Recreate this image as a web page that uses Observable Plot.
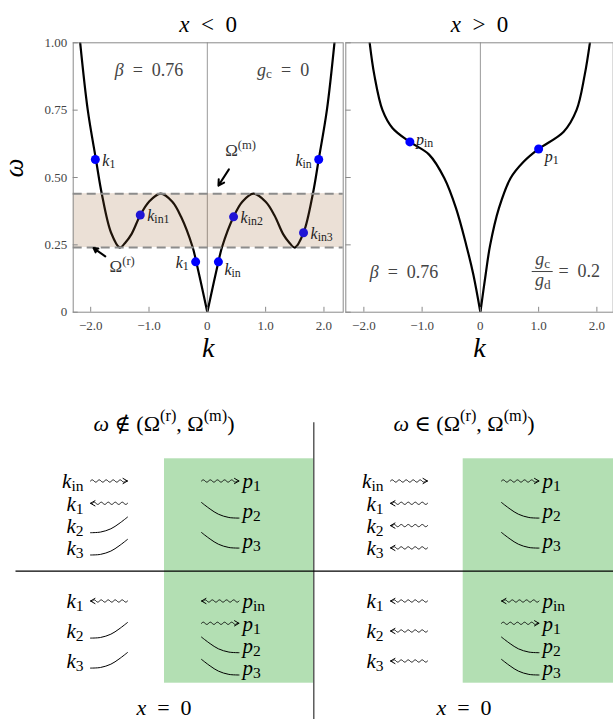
<!DOCTYPE html>
<html><head><meta charset="utf-8">
<script src="https://cdn.jsdelivr.net/npm/d3@7"></script>
<script src="https://cdn.jsdelivr.net/npm/@observablehq/plot@0.6"></script>
<style>
html,body{margin:0;padding:0;background:#fff;}
#fig{position:relative;width:613px;height:719px;overflow:hidden;}
#fig svg{position:absolute;overflow:visible;}
</style></head><body><div id="fig"></div>
<script>
// ================= DATA =================
const bandOmega = [0.24, 0.44];          // Ω^(r), Ω^(m)
const zeroLine = [0];

// x < 0 : dispersion curve
const leftNegK = [-2.18,-2.05,-1.91,-1.81,-1.65,-1.5,-1.4,-1.3,-1.15,-1.0,-0.8,-0.6,-0.45,-0.25,-0.19,-0.1,0];
const leftNegW = [1.0,0.75,0.567,0.44,0.295,0.24,0.26,0.29,0.36,0.41,0.44,0.41,0.354,0.24,0.187,0.1,0];
const leftPosK = [0,0.1,0.19,0.25,0.45,0.6,0.79,1.0,1.15,1.3,1.4,1.5,1.65,1.81,1.91,2.05,2.18];
const leftPosW = [0,0.1,0.187,0.24,0.354,0.41,0.44,0.41,0.36,0.29,0.26,0.24,0.295,0.44,0.567,0.75,1.0];

// x > 0 : dispersion curve
const rightNegK = [-1.90,-1.82,-1.68,-1.51,-1.21,-0.88,-0.62,-0.42,-0.24,-0.12,0];
const rightNegW = [1.0,0.88,0.75,0.684,0.632,0.585,0.498,0.387,0.247,0.139,0];
const rightPosK = [0,0.09,0.166,0.32,0.52,0.75,1.0,1.43,1.65,1.79,1.88];
const rightPosW = [0,0.139,0.247,0.387,0.498,0.56,0.606,0.67,0.75,0.88,1.0];

// marked modes
const leftDotK = [-1.92,-1.15,-0.2,0.19,0.45,1.65,1.91];
const leftDotW = [0.567,0.361,0.187,0.187,0.354,0.295,0.567];
const leftDotLabel = ["k_1","k_{in1}","k_1","k_{in}","k_{in2}","k_{in3}","k_{in}"];
const leftDotSide = ["r","r","l","rb","r","r","l"];
const rightDotK = [-1.21, 1.0];
const rightDotW = [0.632, 0.606];
const rightDotLabel = ["p_{in}","p_1"];
const rightDotSide = ["ra","rb"];

// annotations
const panelTitles = ["x\u2002<\u20020", "x\u2002>\u20020"];
const leftNoteText = ["β\u2002=\u20020.76", "g_c\u2002=\u20020"];
const leftNoteK = [-1.0, 1.3];
const leftNoteW = [0.90, 0.90];
const rightNoteText = ["β\u2002=\u20020.76"];
const rightNoteK = [-1.31];
const rightNoteW = [0.15];
const fracNum = "g_c", fracDen = "g_d", fracRest = "=\u20020.2";
const fracK = 1.07, fracNumW = 0.196, fracBarW = 0.151, fracDenW = 0.118, fracRestK = 1.34;
const omegaLabel = ["Ω^{(m)}", "Ω^{(r)}"];
const omegaLabelK = [0.57, -1.46];
const omegaLabelW = [0.60, 0.17];
const omegaArrowFrom = [[0.37, 0.53], [-1.75, 0.207]];
const omegaArrowTo = [[0.19, 0.47], [-1.95, 0.238]];

// axes
const xTickValues = [-2, -1, 0, 1, 2];
const xTickLabels = ["\u22122.0", "\u22121.0", "0", "1.0", "2.0"];
const yTickValues = [0, 0.25, 0.5, 0.75, 1];
const yTickLabels = ["0", "0.25", "0.50", "0.75", "1.00"];

// bottom diagram: column 0 -> ω ∉ (Ω^(r),Ω^(m)), column 1 -> ω ∈ (Ω^(r),Ω^(m))
// mode types: R = right-moving, L = left-moving, E = growing (evanescent), D = decaying
const diagramTitles = ["ω \u2209 (Ω^{(r)}, Ω^{(m)})", "ω \u2208 (Ω^{(r)}, Ω^{(m)})"];
const boundaryLabel = "x\u2002=\u20020";
const kLabelsTop = ["k_{in}", "k_1", "k_2", "k_3"];
const kTypeTopOut = ["R", "L", "E", "E"];
const kTypeTopIn  = ["R", "L", "L", "L"];
const pLabelsTop = ["p_1", "p_2", "p_3"];
const pTypeTop = ["R", "D", "D"];
const kLabelsBottom = ["k_1", "k_2", "k_3"];
const kTypeBottomOut = ["L", "E", "E"];
const kTypeBottomIn  = ["L", "L", "L"];
const pLabelsBottom = ["p_{in}", "p_1", "p_2", "p_3"];
const pTypeBottom = ["L", "R", "D", "D"];

// ================= HELPERS =================
const FONT = "'Liberation Serif', 'DejaVu Serif', serif";
const STYLE = "font-family:" + FONT + ";background:transparent;overflow:visible;";
const zip = (ks, ws, extra) => ks.map((k, i) => ({k, w: ws[i], ...(extra ? extra(i) : {})}));

function parseMath(s) {
  const out = [];
  const push = (ch, level, italic) => {
    const last = out[out.length - 1];
    if (last && last.level === level && last.italic === italic) last.text += ch;
    else out.push({text: ch, level, italic});
  };
  for (let i = 0; i < s.length; i++) {
    const c = s[i];
    if (c === "_" || c === "^") {
      const level = c === "_" ? -1 : 1;
      let content;
      if (s[i + 1] === "{") { const j = s.indexOf("}", i + 2); content = s.slice(i + 2, j); i = j; }
      else { content = s[i + 1]; i++; }
      for (const ch of content) push(ch, level, false);
    } else push(c, 0, /[A-Za-zα-ω]/.test(c));
  }
  return out;
}
function mathify(root) {
  root.querySelectorAll("text").forEach(t => {
    t.style.setProperty("font-family", FONT, "important");
    if (t.querySelector("tspan")) return;
    const s = t.textContent;
    if (!s) return;
    const segs = parseMath(s);
    if (segs.every(g => g.level === 0 && !g.italic)) return;
    const fs = parseFloat(getComputedStyle(t).fontSize) || 12;
    t.textContent = "";
    let cur = 0;
    for (const g of segs) {
      const ts = document.createElementNS("http://www.w3.org/2000/svg", "tspan");
      const shift = g.level === -1 ? 0.15 * fs : g.level === 1 ? -0.42 * fs : 0;
      if (shift !== cur) { ts.setAttribute("dy", (shift - cur).toFixed(2)); cur = shift; }
      if (g.level) ts.setAttribute("font-size", (0.74 * fs).toFixed(2));
      ts.setAttribute("font-style", g.italic ? "italic" : "normal");
      ts.style.setProperty("font-family", FONT, "important");
      ts.textContent = g.text;
      t.appendChild(ts);
    }
  });
}

const sideOpts = {
  r:  {textAnchor: "start", dx: 7, dy: 1},
  l:  {textAnchor: "end", dx: -7, dy: 1},
  rb: {textAnchor: "start", dx: 6, dy: 8},
  ra: {textAnchor: "start", dx: 6, dy: -2}
};
function dotLabels(dots) {
  return Object.keys(sideOpts).map(side =>
    Plot.text(dots.filter(d => d.side === side), {x: "k", y: "w", text: "label", fontSize: 16, fill: "#222", ...sideOpts[side]}));
}

function frameMarks(showYLabels) {
  return [
    Plot.frame({stroke: "#8a8a8a"}),
    Plot.tickX(xTickValues, {x: d => d, insetTop: 264.5, stroke: "#8a8a8a"}),
    Plot.tickY(yTickValues, {y: d => d, insetRight: showYLabels ? 265 : 262, stroke: "#8a8a8a"}),
    Plot.axisX(xTickValues, {tickSize: 0, tickPadding: 9, fontSize: 13, fill: "#444", label: null,
      tickFormat: d => xTickLabels[xTickValues.indexOf(d)]}),
    ...(showYLabels ? [Plot.axisY(yTickValues, {tickSize: 0, tickPadding: 6, fontSize: 13, fill: "#444", label: null,
      tickFormat: d => yTickLabels[yTickValues.indexOf(d)]})] : [])
  ];
}

// ================= TOP-LEFT PANEL (x<0) =================
const fig = document.getElementById("fig");
const leftCurve = [...zip(leftNegK, leftNegW, () => ({b: "n"})), ...zip(leftPosK, leftPosW, () => ({b: "p"}))];
const leftDots = zip(leftDotK, leftDotW, i => ({label: leftDotLabel[i], side: leftDotSide[i]}));
const leftNotes = zip(leftNoteK, leftNoteW, i => ({t: leftNoteText[i]}));
const omegaNotes = zip(omegaLabelK, omegaLabelW, i => ({t: omegaLabel[i],
  x1: omegaArrowFrom[i][0], y1: omegaArrowFrom[i][1], x2: omegaArrowTo[i][0], y2: omegaArrowTo[i][1]}));

const left = Plot.plot({
  width: 345, height: 380,
  marginLeft: 72.7, marginRight: 2.3, marginTop: 42.3, marginBottom: 68.3,
  x: {domain: [-2.3, 2.33]},
  y: {domain: [0, 1]},
  style: STYLE,
  marks: [
    Plot.ruleX(zeroLine, {stroke: "#9a9a9a", strokeWidth: 1}),
    Plot.line(leftCurve, {x: "k", y: "w", z: "b", curve: "catmull-rom", stroke: "#000", strokeWidth: 2.2, clip: true}),
    Plot.dot(leftDots, {x: "k", y: "w", r: 4.5, fill: "#0000ff"}),
    Plot.rect([bandOmega], {y1: d => d[0], y2: d => d[1], fill: "#996633", fillOpacity: 0.2}),
    Plot.ruleY(bandOmega, {stroke: "#8c8c8c", strokeWidth: 2, strokeDasharray: "9,5"}),
    ...frameMarks(true),
    ...dotLabels(leftDots),
    Plot.text(leftNotes, {x: "k", y: "w", text: "t", fontSize: 18, fill: "#444"}),
    Plot.arrow(omegaNotes, {x1: "x1", y1: "y1", x2: "x2", y2: "y2", stroke: "#000", strokeWidth: 2, headLength: 7}),
    Plot.text(omegaNotes, {x: "k", y: "w", text: "t", fontSize: 17, fill: "#333"}),
    Plot.text([panelTitles[0]], {frameAnchor: "top", dy: -27, fontSize: 23}),
    Plot.text(["ω"], {frameAnchor: "left", dx: -59, rotate: -90, fontSize: 27}),
    Plot.text(["k"], {frameAnchor: "bottom", dy: 45, fontSize: 28})
  ]
});
left.style.left = "0px"; left.style.top = "0px";
fig.appendChild(left);

// ================= TOP-RIGHT PANEL (x>0) =================
const rightCurve = [...zip(rightNegK, rightNegW, () => ({b: "n"})), ...zip(rightPosK, rightPosW, () => ({b: "p"}))];
const rightDots = zip(rightDotK, rightDotW, i => ({label: rightDotLabel[i], side: rightDotSide[i]}));
const rightNotes = zip(rightNoteK, rightNoteW, i => ({t: rightNoteText[i]}));
const frac = [{k: fracK, num: fracNumW, bar: fracBarW, den: fracDenW}];

const right = Plot.plot({
  width: 269, height: 380,
  marginLeft: 1.3, marginRight: 0.3, marginTop: 42.3, marginBottom: 68.3,
  x: {domain: [-2.31, 2.28]},
  y: {domain: [0, 1], axis: null},
  style: STYLE,
  marks: [
    Plot.ruleX(zeroLine, {stroke: "#9a9a9a", strokeWidth: 1}),
    Plot.line(rightCurve, {x: "k", y: "w", z: "b", curve: "catmull-rom", stroke: "#000", strokeWidth: 2.2, clip: true}),
    Plot.dot(rightDots, {x: "k", y: "w", r: 4.5, fill: "#0000ff"}),
    ...frameMarks(false),
    ...dotLabels(rightDots),
    Plot.text(rightNotes, {x: "k", y: "w", text: "t", fontSize: 18, fill: "#444"}),
    Plot.text(frac, {x: "k", y: "num", text: () => fracNum, fontSize: 18, fill: "#444"}),
    Plot.text(frac, {x: "k", y: "den", text: () => fracDen, fontSize: 18, fill: "#444"}),
    Plot.ruleY(frac, {y: "bar", x1: "k", x2: "k", insetLeft: -10.5, insetRight: -10.5, stroke: "#444", strokeWidth: 1}),
    Plot.text(frac, {x: () => fracRestK, y: "bar", text: () => fracRest, textAnchor: "start", fontSize: 18, fill: "#444"}),
    Plot.text([panelTitles[1]], {frameAnchor: "top", dy: -27, fontSize: 23}),
    Plot.text(["k"], {frameAnchor: "bottom", dy: 45, fontSize: 28})
  ]
});
right.style.left = "344px"; right.style.top = "0px";
fig.appendChild(right);

// ================= BOTTOM DIAGRAM =================
const LAY = {
  colShift: [0, 300],
  kLabelX: 83, kArrow: [90, 127],
  pArrow: [201, 238.5], pLabelX: 242,
  rowStart: [481, 601],
  titleY: 423, boundaryY: 707, centerX: 163.5,
  green: [[164, 313.3], [462.7, 613]], greenY: [458.3, 682.7],
  vDivider: [313.3, 421.7, 719], hDivider: [15, 613, 570.7]
};
// glyph templates (normalised shapes)
const growT = [0, 0.27, 0.55, 0.77, 1];
const growV = [0, 0.04, 0.25, 0.58, 1];
const headDX = [-4.5, 0, -4.5];
const headDY = [-2.6, 0, 2.6];

const kCols = [[kTypeTopOut, kTypeBottomOut], [kTypeTopIn, kTypeBottomIn]];
const kLabs = [kLabelsTop, kLabelsBottom];
const pLabs = [pLabelsTop, pLabelsBottom];
const pTypes = [pTypeTop, pTypeBottom];

const items = [];
for (let c = 0; c < 2; c++) for (let r = 0; r < 2; r++) {
  const groups = [
    {side: "k", labels: kLabs[r], types: kCols[c][r]},
    {side: "p", labels: pLabs[r], types: pTypes[r]}
  ];
  for (const g of groups) {
    const n = g.labels.length, step = n === 4 ? 22.3 : 30;
    g.labels.forEach((lab, i) => items.push({
      side: g.side, label: lab, type: g.types[i],
      y: LAY.rowStart[r] + i * step,
      x0: (g.side === "k" ? LAY.kArrow[0] : LAY.pArrow[0]) + LAY.colShift[c],
      x1: (g.side === "k" ? LAY.kArrow[1] : LAY.pArrow[1]) + LAY.colShift[c],
      lx: (g.side === "k" ? LAY.kLabelX : LAY.pLabelX) + LAY.colShift[c]
    }));
  }
}
const waves = [], heads = [], slopes = [];
items.forEach((it, id) => {
  if (it.type === "R" || it.type === "L") {
    const yc = it.y - 0.5;
    const right = it.type === "R";
    const s0 = right ? it.x0 : it.x0 + 2;
    const s1 = right ? it.x1 - 2 : it.x1;
    const per = Math.max(1, Math.round((s1 - s0) / 7)), lam = (s1 - s0) / per;
    const pts = [];
    for (let j = 0; j <= per * 12; j++) {
      const x = s0 + j * lam / 12;
      pts.push({id, x, y: yc - 1.1 * Math.sin(2 * Math.PI * (x - s0) / lam)});
    }
    const tip = right ? it.x1 : it.x0, sgn = right ? 1 : -1;
    if (right) pts.push({id, x: tip, y: yc}); else pts.unshift({id, x: tip, y: yc});
    waves.push(...pts);
    headDX.forEach((dx, j) => heads.push({id, x: tip + sgn * dx, y: yc + headDY[j]}));
  } else {
    const w = it.x1 - it.x0;
    growT.forEach((t, j) => {
      const v = growV[j];
      if (it.type === "E") slopes.push({id, x: it.x0 + t * w, y: it.y + 6.6 - v * 15.6});
      else slopes.push({id, x: it.x1 - t * w, y: it.y + 6.6 - v * 15.6});
    });
  }
});
const greens = LAY.green.map(([a, b]) => ({x1: a, x2: b, y1: LAY.greenY[0], y2: LAY.greenY[1]}));
const dividers = [
  {x1: LAY.vDivider[0], x2: LAY.vDivider[0], y1: LAY.vDivider[1], y2: LAY.vDivider[2], s: "#444"},
  {x1: LAY.hDivider[0], x2: LAY.hDivider[1], y1: LAY.hDivider[2], y2: LAY.hDivider[2], s: "#000"}
];
const centerTexts = [
  ...diagramTitles.map((t, c) => ({t, x: LAY.centerX + LAY.colShift[c], y: LAY.titleY})),
  ...[0, 1].map(c => ({t: boundaryLabel, x: LAY.centerX + LAY.colShift[c], y: LAY.boundaryY}))
];

const diag = Plot.plot({
  width: 613, height: 319, margin: 0,
  x: {domain: [0, 613], range: [0, 613], axis: null},
  y: {domain: [400, 719], range: [0, 319], axis: null},
  style: STYLE,
  marks: [
    Plot.rect(greens, {x1: "x1", x2: "x2", y1: "y1", y2: "y2", fill: "#b3dfb3"}),
    Plot.link(dividers, {x1: "x1", y1: "y1", x2: "x2", y2: "y2", stroke: "s", strokeWidth: 1.3}),
    Plot.line(waves, {x: "x", y: "y", z: "id", stroke: "#000", strokeWidth: 0.9, curve: "linear"}),
    Plot.line(heads, {x: "x", y: "y", z: "id", stroke: "#000", strokeWidth: 1, curve: "linear"}),
    Plot.line(slopes, {x: "x", y: "y", z: "id", stroke: "#000", strokeWidth: 1, curve: "catmull-rom"}),
    Plot.text(items.filter(d => d.side === "k"), {x: "lx", y: "y", text: "label", textAnchor: "end", fontSize: 21, fill: "#000"}),
    Plot.text(items.filter(d => d.side === "p"), {x: "lx", y: "y", text: "label", textAnchor: "start", fontSize: 21, fill: "#000"}),
    Plot.text(centerTexts, {x: "x", y: "y", text: "t", fontSize: 22, fill: "#000"})
  ]
});
diag.style.left = "0px"; diag.style.top = "400px";
fig.appendChild(diag);

mathify(fig);
</script></body></html>
